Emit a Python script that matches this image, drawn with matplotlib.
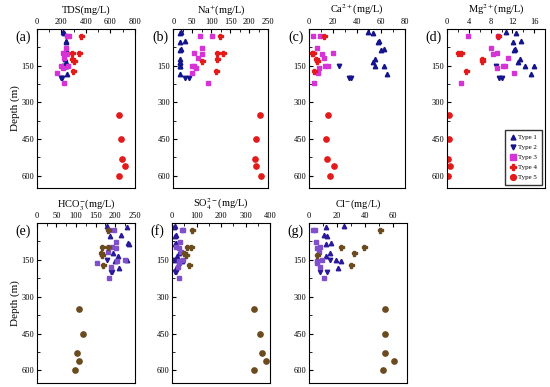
import matplotlib
matplotlib.use("Agg")
import matplotlib.pyplot as plt
from matplotlib.ticker import MultipleLocator

plt.rcParams['font.family'] = ['Liberation Serif', 'DejaVu Serif']
plt.rcParams['mathtext.fontset'] = 'stix'

# 各类型样品深度 (m)
d1 = [11, 18, 50, 53, 80, 85, 122, 136, 150, 153, 182]
d2 = [150, 200, 200]
d3 = [28, 28, 78, 99, 104, 119, 150, 153, 161, 181, 222]
d4 = [28, 99, 99, 122, 131, 170]
d5 = [350, 450, 530, 560, 600]

# 各参数 (mg/L)，顺序: type1..type5
tds = [[215, 225, 235, 240, 238, 235, 230, 235, 225, 240, 250],
       [225, 200, 205],
       [244, 265, 235, 217, 244, 225, 198, 252, 217, 168, 225],
       [360, 285, 344, 285, 300, 293],
       [672, 691, 697, 718, 670]]
na = [[21, 19, 30, 17, 21, 19, 19, 19, 17, 17, 17],
      [18, 32, 42],
      [70, 102, 76, 54, 76, 65, 50, 54, 61, 48, 91],
      [122, 115, 130, 115, 76, 113],
      [228, 218, 216, 218, 230]]
ca = [[49, 53, 58, 57, 62, 60, 55, 53, 55, 62, 65],
      [25, 33, 35],
      [3.6, 9, 6.9, 19.7, 11, 12, 16, 13.5, 8.6, 7.2, 4.2],
      [12.3, 2.2, 3.6, 5.8, 6.4, 4.2],
      [15.5, 14, 14.7, 20.8, 17]]
mg = [[10.9, 12.6, 13.6, 12.1, 12.5, 12.3, 13.4, 13.0, 14.3, 15.9, 15.5],
      [9, 9.6, 10],
      [3.8, 9.4, 8, 9.1, 8.4, 11.1, 10.2, 10.6, 9.1, 12.3, 2.6],
      [9.3, 2.0, 2.6, 6.4, 6.4, 3.5],
      [0.3, 0.4, 0.1, 0.6, 0.2]]
hco3 = [[178, 229, 214, 186, 233, 235, 195, 208, 229, 199, 210],
        [178, 190, 192],
        [197, 185, 201, 192, 203, 182, 225, 205, 153, 190, 185],
        [182, 182, 167, 165, 166, 170],
        [107, 117, 103, 108, 98]]
so4 = [[12, 8, 17, 10, 15, 12, 30, 20, 10, 40, 15],
       [10, 12, 15],
       [41, 45, 34, 17, 28, 38, 45, 28, 30, 24, 28],
       [82, 62, 78, 50, 55, 67],
       [336, 357, 369, 383, 335]]
cl = [[25, 12, 11, 13, 16, 12, 15, 12, 19, 23, 21],
      [15, 8, 13],
      [3, 4.4, 4.9, 8, 5.7, 7, 9, 5.7, 6, 8, 11],
      [50.5, 23, 39, 32, 5.7, 30],
      [54, 54, 54.6, 61, 53]]

depths = [d1, d2, d3, d4, d5]
type_names = ['Type 1', 'Type 2', 'Type 3', 'Type 4', 'Type 5']
markers = ['^', 'v', 's', 'P', 'o']
sizes = [3.2, 3.2, 3.4, 3.6, 3.8]
top_colors = ['#14148c', '#14148c', '#d633d6', '#e31a1a', '#e31a1a']
bot_colors = ['#2a1a9a', '#2a1a9a', '#8050cc', '#6b4a1e', '#6b4a1e']

panels = [
    # data, xlabel, xmax, major, tag, [left, bottom, w, h], colors, ylabel
    (tds, 'TDS(mg/L)', 800, 200, '(a)', [0.067, 0.514, 0.178, 0.411], top_colors, True),
    (na, 'Na$^{+}$(mg/L)', 250, 50, '(b)', [0.315, 0.514, 0.173, 0.411], top_colors, False),
    (ca, 'Ca$^{2+}$(mg/L)', 80, 20, '(c)', [0.562, 0.514, 0.175, 0.411], top_colors, False),
    (mg, 'Mg$^{2+}$(mg/L)', 18, 4, '(d)', [0.813, 0.514, 0.178, 0.411], top_colors, False),
    (hco3, 'HCO$_3^{-}$(mg/L)', 250, 50, '(e)', [0.067, 0.011, 0.178, 0.413], bot_colors, True),
    (so4, 'SO$_4^{2-}$(mg/L)', 400, 100, '(f)', [0.313, 0.011, 0.178, 0.413], bot_colors, False),
    (cl, 'Cl$^{-}$(mg/L)', 70, 20, '(g)', [0.562, 0.011, 0.178, 0.413], bot_colors, False),
]

fig = plt.figure(figsize=(5.5, 3.87), dpi=100)

for data, xlabel, xmax, major, tag, pos, cols, ylab in panels:
    ax = fig.add_axes(pos)
    for i in range(5):
        ax.plot(data[i], depths[i], linestyle='none', marker=markers[i],
                color=cols[i], markersize=sizes[i], label=type_names[i])
    ax.set_xlim(0, xmax)
    ax.set_ylim(650, 0)
    ax.xaxis.set_major_locator(MultipleLocator(major))
    ax.xaxis.set_minor_locator(MultipleLocator(major / 2))
    ax.yaxis.set_minor_locator(MultipleLocator(75))
    ax.set_yticks([150, 300, 450, 600])
    ax.xaxis.tick_top()
    ax.xaxis.set_label_position('top')
    ax.tick_params(which='both', direction='in', labelsize=6, pad=2)
    ax.tick_params(which='major', length=3)
    ax.tick_params(which='minor', length=2)
    ax.set_xlabel(xlabel, fontsize=7.5, labelpad=4)
    if ylab:
        ax.set_ylabel('Depth (m)', fontsize=8, labelpad=1)
    ax.text(-0.22, 0.95, tag, transform=ax.transAxes, fontsize=10,
            ha='left', va='center')
    if tag == '(d)':
        ax.xaxis.set_minor_locator(MultipleLocator(2))
        ax.legend(loc='lower right', fontsize=5, frameon=True, fancybox=False,
                  edgecolor='black', handletextpad=0.3, borderpad=0.6,
                  labelspacing=0.6, handlelength=1.0, markerscale=1.1)

fig.savefig('out.png', dpi=100)
